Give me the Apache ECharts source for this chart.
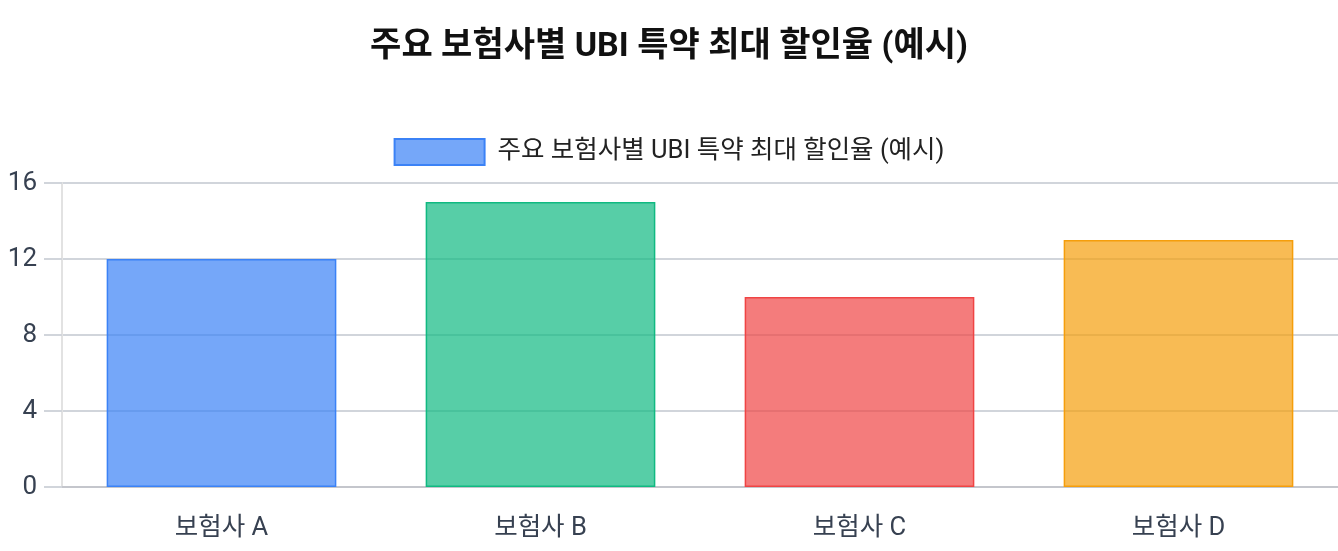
<!DOCTYPE html>
<html>
<head>
<meta charset="utf-8">
<script src="https://cdn.jsdelivr.net/npm/echarts@6.0.0/dist/echarts.min.js"></script>
<style>
  html, body { margin: 0; padding: 0; background: #fff; }
  #chart { width: 1338px; height: 551px; }
</style>
</head>
<body>
<div id="chart"></div>
<script>
// data
const categories = ['보험사 A', '보험사 B', '보험사 C', '보험사 D'];
const discountRates = [12, 15, 10, 13];
const fillColors = ['rgba(59,130,246,0.7)', 'rgba(16,185,129,0.7)', 'rgba(239,68,68,0.7)', 'rgba(245,158,11,0.7)'];
const borderColors = ['#3b82f6', '#10b981', '#ef4444', '#f59e0b'];
const seriesName = '주요 보험사별 UBI 특약 최대 할인율 (예시)';

const FONT = 'Roboto, "Noto Sans CJK KR", sans-serif';

const chart = echarts.init(document.getElementById('chart'), null, { renderer: 'canvas' });

chart.setOption({
    animation: false,
    title: {
        text: seriesName,
        left: 'center',
        top: 26,
        textStyle: { fontFamily: FONT, fontSize: 34, fontWeight: 'bold', color: '#111' },
    },
    legend: {
        top: 133,
        left: 'center',
        icon: 'rect',
        itemWidth: 90,
        itemHeight: 26,
        itemGap: 10,
        textStyle: { fontFamily: FONT, fontSize: 25.5, color: '#222', padding: [0, 0, 0, 8] },
        data: [{ name: seriesName, itemStyle: { color: fillColors[0], borderColor: borderColors[0], borderWidth: 2 } }],
    },
    grid: { left: 62, right: 0, top: 183, bottom: 64 },
    xAxis: {
        type: 'category',
        data: categories,
        axisLine: { lineStyle: { color: '#c4c6cc', width: 2 } },
        axisTick: { show: false },
        splitLine: { show: false },
        axisLabel: { fontFamily: FONT, fontSize: 25.5, color: '#374151', margin: 29 },
    },
    yAxis: {
        type: 'value',
        min: 0,
        max: 16,
        interval: 4,
        axisLine: { show: true, lineStyle: { color: '#e2e2e2', width: 2 } },
        axisTick: { show: true, length: 18, lineStyle: { color: '#d1d5db', width: 2 } },
        splitLine: { lineStyle: { color: '#d1d5db', width: 2 } },
        axisLabel: { fontFamily: FONT, fontSize: 26, color: '#374151', margin: 25 },
    },
    series: [{
        name: seriesName,
        type: 'bar',
        barWidth: '72%',
        data: discountRates.map((v, i) => ({
            value: v,
            itemStyle: { color: fillColors[i], borderColor: borderColors[i], borderWidth: 1.5 },
        })),
    }],
});
</script>
</body>
</html>
